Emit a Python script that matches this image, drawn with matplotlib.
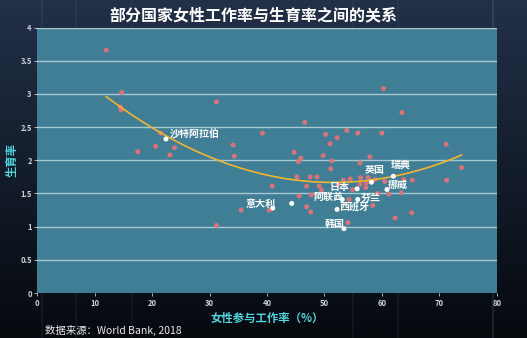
import numpy as np
import matplotlib
matplotlib.use("Agg")
import matplotlib.pyplot as plt

plt.rcParams['font.family'] = ['Noto Sans CJK SC', 'DejaVu Sans']

# female labour participation (%) vs fertility, other countries
lfpr = [12.0, 14.7, 14.5, 14.6, 31.2, 21.5, 39.2, 17.5, 20.6, 23.9, 23.1, 34.1,
        34.3, 44.7, 60.3, 63.5, 46.6, 50.2, 53.9, 55.8, 60.0, 52.2, 51.0, 45.9,
        49.8, 57.9, 71.2, 45.5, 45.2, 40.9, 45.6, 35.5, 40.4, 31.2, 51.3, 56.2,
        51.1, 73.9, 47.5, 48.7, 53.3, 54.5, 56.3, 57.6, 58.8, 57.3, 56.2, 60.5,
        63.8, 65.3, 71.3, 46.9, 49.1, 52.4, 54.9, 47.7, 49.5, 54.3, 59.3, 61.2,
        63.4, 58.4, 46.9, 47.6, 65.2, 62.3, 54.1, 57.2]
fert = [3.66, 3.02, 2.80, 2.76, 2.88, 2.41, 2.41, 2.13, 2.21, 2.19, 2.08, 2.23,
        2.06, 2.12, 3.08, 2.72, 2.57, 2.39, 2.45, 2.41, 2.41, 2.34, 2.25, 2.03,
        2.07, 2.05, 2.24, 1.98, 1.75, 1.61, 1.46, 1.25, 1.25, 1.02, 1.99, 1.96,
        1.87, 1.89, 1.75, 1.75, 1.70, 1.72, 1.74, 1.74, 1.71, 1.66, 1.64, 1.68,
        1.71, 1.70, 1.70, 1.61, 1.61, 1.63, 1.56, 1.48, 1.55, 1.41, 1.50, 1.49,
        1.51, 1.32, 1.30, 1.22, 1.21, 1.13, 1.06, 1.59]

# highlighted countries
names = ['沙特阿拉伯', '意大利', '瑞典', '英国', '挪威', '日本', '阿联酋', '芬兰', '西班牙', '韩国', '']
hl_x = [22.4, 41.0, 62.0, 58.2, 60.9, 55.7, 53.1, 55.8, 52.2, 53.4, 44.3]
hl_y = [2.32, 1.28, 1.76, 1.67, 1.56, 1.57, 1.41, 1.41, 1.26, 0.97, 1.35]
label_x = [23.1, 36.3, 61.6, 57.1, 61.1, 50.8, 48.1, 56.4, 52.6, 50.0, 0]
label_y = [2.39, 1.34, 1.94, 1.85, 1.63, 1.59, 1.45, 1.44, 1.30, 1.04, 0]

# quadratic trend
trend_coef = [0.000827, -0.08526, 3.864]
trend_range = [12.0, 73.9]

fig = plt.figure(figsize=(5.27, 3.38), dpi=100)

# dark backdrop
bg = fig.add_axes([0, 0, 1, 1])
grad = np.linspace(0, 1, 256).reshape(-1, 1)
bg_cmap = matplotlib.colors.LinearSegmentedColormap.from_list('bg', ['#223048', '#141d2b', '#06090e'])
bg.imshow(grad, aspect='auto', cmap=bg_cmap, extent=[0, 1, 0, 1], origin='upper')
for sx, a in [(0.08, 0.10), (0.145, 0.08), (0.25, 0.07), (0.67, 0.09), (0.755, 0.08), (0.935, 0.18)]:
    bg.axvline(sx, color='#8fa8c8', alpha=a, lw=1.2)
bg.set_xlim(0, 1)
bg.set_ylim(0, 1)
bg.axis('off')

ax = fig.add_axes([0.0708, 0.133, 0.8717, 0.7856])
ax.set_facecolor('#3f7e95')
ax.set_xlim(0, 80)
ax.set_ylim(0, 4)
for gy in np.arange(0.5, 4.01, 0.5):
    ax.axhline(gy, color='#a8c8d2', lw=1.0, zorder=1)
for s in ax.spines.values():
    s.set_visible(False)

ax.scatter(lfpr, fert, s=13, color='#d9737b', edgecolors='none', zorder=3)

tx = np.linspace(trend_range[0], trend_range[1], 200)
ax.plot(tx, np.polyval(trend_coef, tx), color='#f2b430', lw=1.2, zorder=4)

ax.scatter(hl_x, hl_y, s=13, color='white', edgecolors='none', zorder=5)
for n, x, y in zip(names, label_x, label_y):
    if n:
        ax.text(x, y, n, color='white', fontsize=7.2, fontweight='bold',
                va='center', ha='left', zorder=6)

ax.set_xticks(np.arange(0, 81, 10))
ax.set_yticks(np.arange(0, 4.01, 0.5))
ax.set_yticklabels(['0', '0.5', '1', '1.5', '2', '2.5', '3', '3.5', '4'])
ax.tick_params(colors='#c8d0d8', labelsize=5.5, length=2, width=0.6, pad=2)
for lab in ax.get_xticklabels() + ax.get_yticklabels():
    lab.set_fontweight('bold')

ax.set_xlabel('女性参与工作率（%）', color='#52d6e0', fontsize=8.2, fontweight='bold', labelpad=3)
ax.set_ylabel('生育率', color='#52d6e0', fontsize=8.2, fontweight='bold', labelpad=1)

fig.text(0.48, 0.955, '部分国家女性工作率与生育率之间的关系', color='white',
         fontsize=11.5, fontweight='bold', ha='center', va='center')
fig.text(0.086, 0.022, '数据来源：World Bank, 2018', color='#e8eaee', fontsize=7.5,
         ha='left', va='center')

fig.savefig('out.png', dpi=100)
